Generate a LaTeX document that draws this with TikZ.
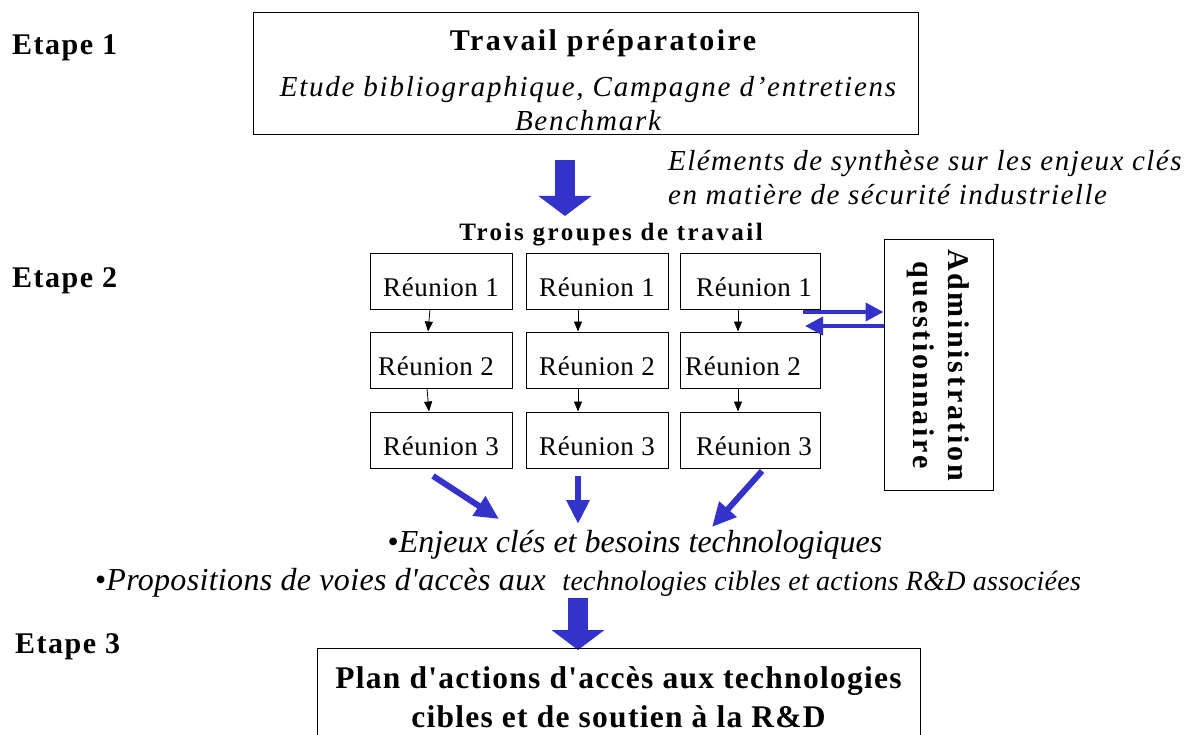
\documentclass[tikz,border=0pt]{standalone}
\usepackage{fontspec}
\setmainfont{Liberation Serif}[Ligatures=TeXOff]
\usetikzlibrary{positioning,arrows.meta}

\definecolor{flowblue}{RGB}{51,51,204}

\newcommand\etapefont{\fontsize{30}{34}\selectfont\bfseries\addfontfeatures{LetterSpace=5}}
\newcommand\titlefont{\fontsize{30}{34}\selectfont\upshape\bfseries\addfontfeatures{LetterSpace=8}}
\newcommand\notefont{\fontsize{29}{34}\selectfont\itshape\addfontfeatures{LetterSpace=6}}
\newcommand\meetfont{\fontsize{27}{30}\selectfont\addfontfeatures{LetterSpace=2}}

\tikzset{
  box/.style={draw, line width=1pt, inner sep=0pt},
  meet/.style={box, minimum width=142pt, minimum height=56pt, font=\meetfont,
    text height=30pt, text depth=0pt},
  etape/.style={anchor=west, inner sep=0pt, font=\etapefont},
  bigarrow/.style={draw=flowblue, line width=20pt, -{Triangle[width=52pt,length=20pt]}},
  midarrow/.style={draw=flowblue, line width=6pt, -{Triangle[width=22pt,length=24pt]}},
  smallarrow/.style={draw=flowblue, line width=4pt, -{Triangle[width=18pt,length=18pt]}},
  thinarrow/.style={line width=0.8pt, -{Triangle[width=8pt,length=10pt]}}
}

\begin{document}
\begin{tikzpicture}[x=1pt,y=-1pt]
\useasboundingbox (0,0) rectangle (1190,735);

% les trois etapes
\node[etape] (etape1) at (12,48) {Etape 1};
\node[etape] (etape2) at (12,281) {Etape 2};
\node[etape] (etape3) at (15,647) {Etape 3};

% etape 1
\node[box, minimum width=665pt, minimum height=122pt] (prep) at (585.5,74) {};
\node[align=center, inner sep=0pt, font=\notefont] (prepText) at (588,80)
  {\hspace*{30pt}{\titlefont Travail préparatoire}\\[12pt]
   Etude bibliographique, Campagne d’entretiens\\
   Benchmark};

\node[anchor=west, align=left, font=\notefont\addfontfeatures{LetterSpace=5}, inner sep=0pt] (synth) at (668,178)
  {Eléments de synthèse sur les enjeux clés\\en matière de sécurité industrielle};

\coordinate (a1) at (565,160);
\coordinate (a1e) at (565,216);
\draw[bigarrow] (a1) -- (a1e);

% etape 2 : groupes de travail
\node[font=\fontsize{25}{28}\selectfont\bfseries\addfontfeatures{LetterSpace=10}] (groupes) at (611,235)
  {Trois groupes de travail};

\node[meet] (r11) at (441,281) {Réunion 1};
\node[meet] (r12) at (597,281) {Réunion 1};
\node[meet, minimum width=140pt] (r13) at (750,281) {\hspace*{8pt}Réunion 1};
\node[meet] (r21) at (441,360) {Réunion 2\hspace*{10pt}};
\node[meet] (r22) at (597,360) {Réunion 2};
\node[meet, minimum width=140pt] (r23) at (750,360) {Réunion 2\hspace*{14pt}};
\node[meet] (r31) at (441,440) {Réunion 3};
\node[meet] (r32) at (597,440) {Réunion 3};
\node[meet, minimum width=140pt] (r33) at (750,440) {\hspace*{8pt}Réunion 3};

\draw[thinarrow] (r11.south -| 430,0) -- (r21.north -| 428,0);
\draw[thinarrow] (r12.south -| 578,0) -- (r22.north -| 578,0);
\draw[thinarrow] (r13.south -| 738,0) -- (r23.north -| 738,0);
\draw[thinarrow] (r21.south -| 427,0) -- (r31.north -| 429,0);
\draw[thinarrow] (r22.south -| 578,0) -- (r32.north -| 578,0);
\draw[thinarrow] (r23.south -| 738,0) -- (r33.north -| 738,0);

\node[box, rotate=-90, minimum width=250pt, minimum height=109pt, align=center,
  font=\fontsize{30}{35}\selectfont\bfseries\addfontfeatures{LetterSpace=9}] (admin) at (938.5,365)
  {Administration\\questionnaire};

\coordinate (q1) at (803,312);
\coordinate (q2) at (805,326);
\draw[smallarrow] (q1) -- (q1 -| admin.south);
\draw[smallarrow] (q2 -| admin.south) -- (q2);

% resultats des groupes
\coordinate (b1) at (433,476);
\coordinate (b1e) at (499,519);
\coordinate (b2) at (578,476);
\coordinate (b2e) at (578,524);
\coordinate (b3) at (762,471);
\coordinate (b3e) at (712,527);
\draw[midarrow] (b1) -- (b1e);
\draw[midarrow] (b2) -- (b2e);
\draw[midarrow] (b3) -- (b3e);

\node[font=\fontsize{32}{36}\selectfont\itshape] (enjeux) at (635,545)
  {{\upshape•}Enjeux clés et besoins technologiques};
\node[anchor=west, inner sep=0pt, font=\fontsize{32}{36}\selectfont\itshape\addfontfeatures{LetterSpace=1}] (voies) at (95,583)
  {{\upshape•}Propositions de voies d'accès aux \ {\fontsize{28}{30}\selectfont technologies cibles et actions R\&D associées}};

% etape 3
\coordinate (a3) at (578,598);
\coordinate (a3e) at (578,650);
\draw[bigarrow] (a3) -- (a3e);

\node[box, minimum width=603pt, minimum height=110pt] (plan) at (618.5,703) {};
\node[align=center, inner sep=0pt, font=\fontsize{31.5}{39}\selectfont\bfseries\addfontfeatures{LetterSpace=4}] (planText) at (618.5,697)
  {Plan d'actions d'accès aux technologies\\cibles et de soutien à la R\&D};

\end{tikzpicture}
\end{document}
